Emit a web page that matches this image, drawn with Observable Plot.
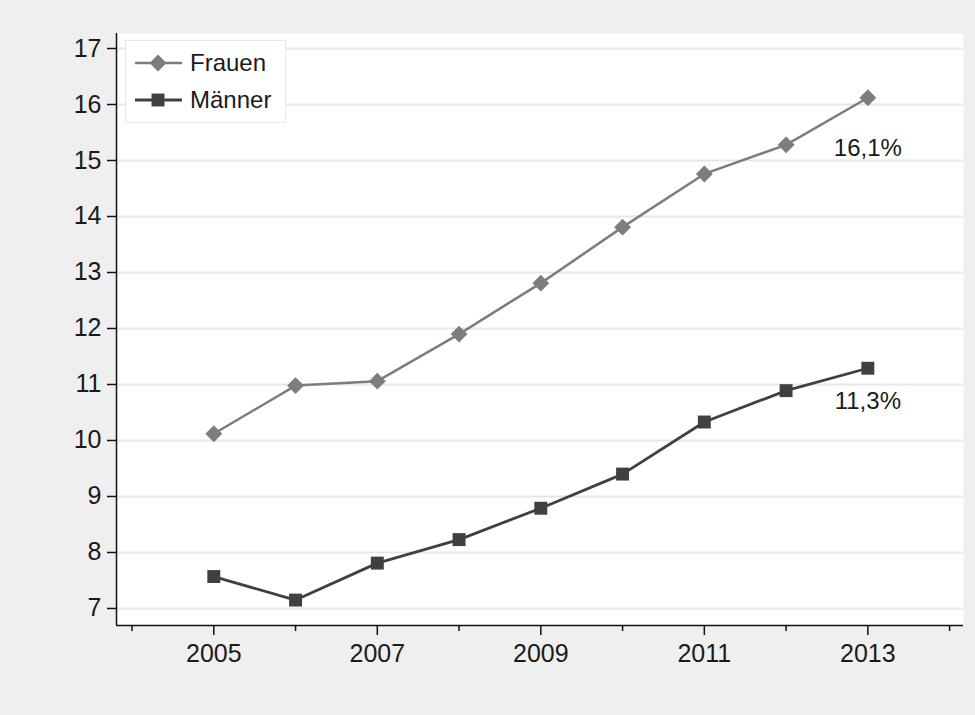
<!DOCTYPE html>
<html>
<head>
<meta charset="utf-8">
<script src="https://cdn.jsdelivr.net/npm/d3@7"></script>
<script src="https://cdn.jsdelivr.net/npm/@observablehq/plot@0.6"></script>
<style>
  html, body { margin: 0; padding: 0; background: #efefef; }
  #wrap { position: relative; width: 975px; height: 715px; }
  #legend { position: absolute; left: 125px; top: 40px; }
</style>
</head>
<body>
<div id="wrap"><div id="chart"></div><div id="legend"></div></div>
<script>
// ---- data ----
const years = [2005, 2006, 2007, 2008, 2009, 2010, 2011, 2012, 2013];
const frauen = [10.12, 10.98, 11.06, 11.9, 12.81, 13.81, 14.76, 15.28, 16.12];
const maenner = [7.57, 7.15, 7.81, 8.23, 8.79, 9.40, 10.33, 10.89, 11.29];
const seriesNames = ["Frauen", "Männer"];
const endLabels = ["16,1%", "11,3%"];
const yTicks = [7, 8, 9, 10, 11, 12, 13, 14, 15, 16, 17];
const xMajor = [2005, 2007, 2009, 2011, 2013];
const xMinor = [2004, 2006, 2008, 2010, 2012, 2014];

// ---- styles ----
const colF = "#7d7d7d";
const colM = "#404040";
const font = "'Liberation Sans', Arial, sans-serif";
const xDomain = [2003.81, 2014.17];
const yDomain = [6.696, 17.268];

const dataF = years.map((y, i) => ({year: y, value: frauen[i]}));
const dataM = years.map((y, i) => ({year: y, value: maenner[i]}));
const endF = [{year: years[years.length - 1], value: frauen[frauen.length - 1], label: endLabels[0]}];
const endM = [{year: years[years.length - 1], value: maenner[maenner.length - 1], label: endLabels[1]}];

const chart = Plot.plot({
  width: 975,
  height: 715,
  marginLeft: 116,
  marginRight: 12,
  marginTop: 33,
  marginBottom: 90,
  style: {background: "#efefef", fontFamily: font, color: "#1a1a1a"},
  x: {domain: xDomain},
  y: {domain: yDomain},
  marks: [
    Plot.frame({fill: "white", stroke: null}),
    Plot.gridY(yTicks, {stroke: "#e6e6e6", strokeOpacity: 1, strokeWidth: 2}),
    Plot.ruleX([xDomain[0]], {stroke: "#111", strokeWidth: 1.5}),
    Plot.ruleY([yDomain[0]], {stroke: "#111", strokeWidth: 1.5}),
    Plot.axisY(yTicks, {tickSize: 9, tickPadding: 6, fontSize: 25, stroke: "#111", strokeWidth: 1.5, tickFormat: d => String(d), label: null}),
    Plot.axisX(xMajor, {tickSize: 10, tickPadding: 9, fontSize: 25, stroke: "#111", strokeWidth: 1.5, tickFormat: d => String(d), label: null}),
    Plot.axisX(xMinor, {tickSize: 6, tickFormat: () => "", stroke: "#111", strokeWidth: 1.5, label: null}),
    Plot.line(dataF, {x: "year", y: "value", stroke: colF, strokeWidth: 2.5}),
    Plot.dot(dataF, {x: "year", y: "value", symbol: "diamond2", r: 7.6, fill: colF, stroke: null}),
    Plot.line(dataM, {x: "year", y: "value", stroke: colM, strokeWidth: 2.8}),
    Plot.dot(dataM, {x: "year", y: "value", symbol: "square", r: 7.3, fill: colM, stroke: null}),
    Plot.text(endF, {x: "year", y: "value", text: "label", dy: 51, fontSize: 24, fill: "#1a1a1a"}),
    Plot.text(endM, {x: "year", y: "value", text: "label", dy: 33, fontSize: 24, fill: "#1a1a1a"})
  ]
});
document.getElementById("chart").appendChild(chart);

// ---- legend ----
const lg = d3.select("#legend").append("svg")
  .attr("width", 162).attr("height", 84)
  .style("font-family", font);
lg.append("rect").attr("x", 0.5).attr("y", 0.5).attr("width", 160).attr("height", 82)
  .attr("fill", "white").attr("stroke", "#e8e8e8");
const items = [
  {name: seriesNames[0], color: colF, sym: d3.symbolDiamond2, size: Math.PI * 7.6 * 7.6, sw: 2.5},
  {name: seriesNames[1], color: colM, sym: d3.symbolSquare, size: Math.PI * 7.3 * 7.3, sw: 2.8}
];
items.forEach((it, i) => {
  const cy = 23 + i * 37;
  const g = lg.append("g");
  g.append("line").attr("x1", 10).attr("x2", 57).attr("y1", cy).attr("y2", cy)
    .attr("stroke", it.color).attr("stroke-width", it.sw);
  g.append("path").attr("d", d3.symbol(it.sym, it.size)())
    .attr("transform", `translate(33,${cy})`).attr("fill", it.color);
  g.append("text").attr("x", 65).attr("y", cy).attr("dy", "0.35em")
    .attr("font-size", 24).attr("fill", "#1a1a1a").text(it.name);
});
</script>
</body>
</html>
